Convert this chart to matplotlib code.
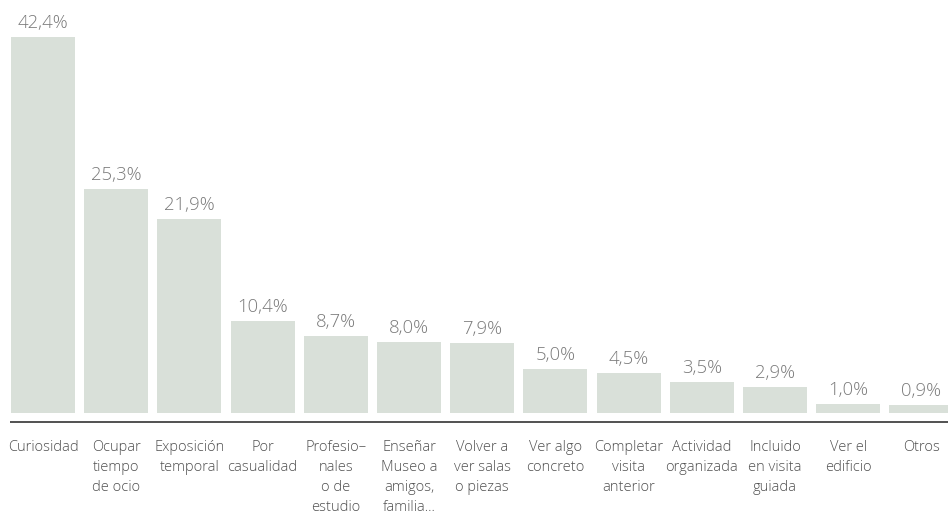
import matplotlib
matplotlib.use("Agg")
import matplotlib.pyplot as plt

categories = ["Curiosidad", "Ocupar\ntiempo\nde ocio", "Exposición\ntemporal", "Por\ncasualidad",
              "Profesio–\nnales\no de\nestudio", "Enseñar\nMuseo a\namigos,\nfamilia...",
              "Volver a\nver salas\no piezas", "Ver algo\nconcreto", "Completar\nvisita\nanterior",
              "Actividad\norganizada", "Incluido\nen visita\nguiada", "Ver el\nedificio", "Otros"]
values = [42.4, 25.3, 21.9, 10.4, 8.7, 8.0, 7.9, 5.0, 4.5, 3.5, 2.9, 1.0, 0.9]
value_labels = ["42,4%", "25,3%", "21,9%", "10,4%", "8,7%", "8,0%", "7,9%", "5,0%", "4,5%",
                "3,5%", "2,9%", "1,0%", "0,9%"]

W, H = 948, 516
fig = plt.figure(figsize=(W / 100, H / 100), dpi=100)
ax = fig.add_axes([0, 0, 1, 1])

pitch = 73.2
c0 = 43.0
base_px = 413.0
scale = 8.868  # px per unit

ax.set_xlim(-c0 / pitch, (W - c0) / pitch)
ax.set_ylim(-(H - base_px) / scale, base_px / scale)
ax.axis("off")

x = list(range(len(values)))
ax.bar(x, values, width=64 / pitch, color="#d9e0d9", linewidth=0)

font = "Open Sans"
for xi, v, lab in zip(x, values, value_labels):
    ax.text(xi, v + 9 / scale, lab, ha="center", va="baseline", fontsize=13.3,
            color="#7a7a7a", family=font, fontweight="light")

for xi, cat in zip(x, categories):
    ax.text(xi, -27 / scale, cat, ha="center", va="top", fontsize=10.5, color="#505050",
            family=font, fontweight="light", linespacing=1.46)

ax.plot([(10 - c0) / pitch, (W - c0) / pitch], [-8.5 / scale, -8.5 / scale],
        color="#333333", lw=1.2, solid_capstyle="butt", clip_on=False)

fig.savefig("out.png", dpi=100)
